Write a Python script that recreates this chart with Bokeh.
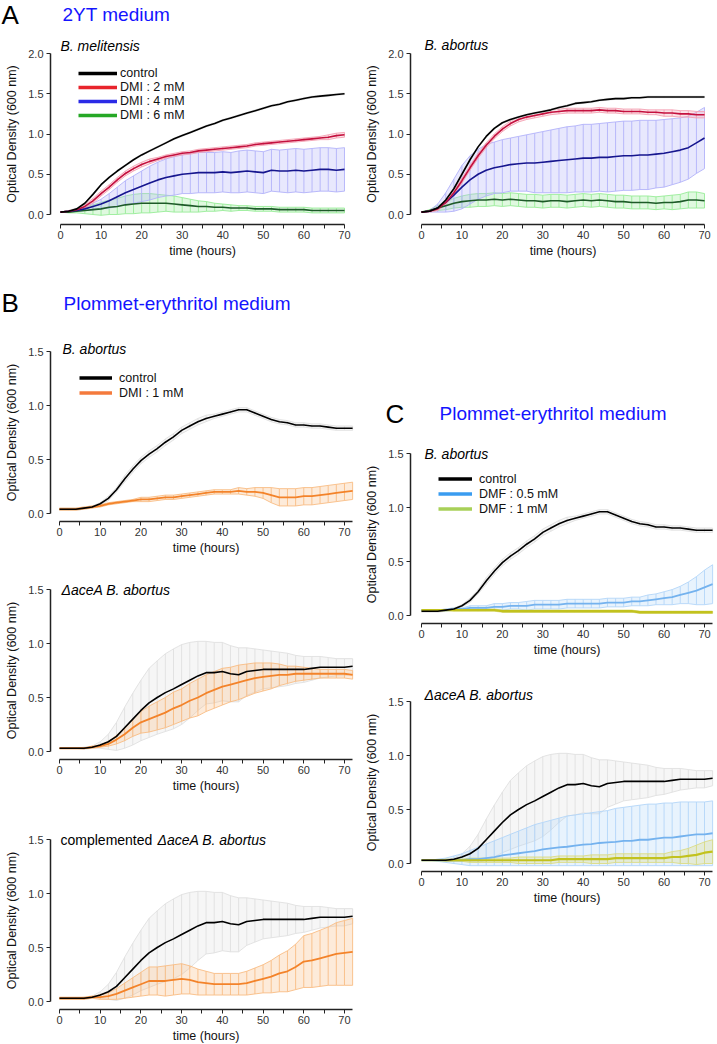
from bokeh.plotting import figure
from bokeh.models import Range1d, FixedTicker, Label, Legend, LegendItem, PrintfTickFormatter
from bokeh.layouts import row, column
from bokeh.embed import file_html
from bokeh.resources import INLINE

FONT = "Liberation Sans"
NAN = float("nan")

# ---------------- data ----------------
t_A = [0, 2, 4, 6, 8, 10, 12, 14, 16, 18, 20, 22, 24, 26, 28, 30, 32, 34,
       36, 38, 40, 42, 44, 46, 48, 50, 52, 54, 56, 58, 60, 62, 64, 66, 68, 70]
t_BC = [0, 2, 4, 6, 8, 10, 12, 14, 16, 18, 20, 22, 24, 26, 28, 30, 32, 34,
        36, 38, 40, 42, 44, 46, 48, 50, 52, 54, 56, 58, 60, 62, 64, 66, 68, 70, 72]

# Panel A, B. melitensis (2YT)
mel_ctrl = [0.03, 0.04, 0.07, 0.14, 0.25, 0.37,
            0.46, 0.54, 0.61, 0.68, 0.74, 0.79,
            0.84, 0.89, 0.94, 0.98, 1.02, 1.06,
            1.10, 1.13, 1.17, 1.20, 1.23, 1.26,
            1.29, 1.32, 1.35, 1.37, 1.40, 1.42,
            1.44, 1.46, 1.47, 1.48, 1.49, 1.50]
mel_ctrl_sd = [0.00, 0.01, 0.01, 0.01, 0.01, 0.01,
               0.01, 0.01, 0.01, 0.01, 0.01, 0.01,
               0.01, 0.01, 0.01, 0.01, 0.01, 0.01,
               0.01, 0.01, 0.01, 0.01, 0.01, 0.01,
               0.01, 0.01, 0.01, 0.01, 0.01, 0.01,
               0.01, 0.01, 0.01, 0.01, 0.01, 0.01]
mel_dmi2 = [0.03, 0.04, 0.06, 0.10, 0.17, 0.26,
            0.34, 0.43, 0.51, 0.57, 0.62, 0.66,
            0.69, 0.72, 0.74, 0.76, 0.77, 0.79,
            0.80, 0.81, 0.82, 0.83, 0.84, 0.85,
            0.87, 0.88, 0.89, 0.90, 0.91, 0.92,
            0.93, 0.94, 0.95, 0.96, 0.98, 0.99]
mel_dmi2_sd = [0.00, 0.01, 0.01, 0.02, 0.03, 0.03,
               0.03, 0.03, 0.03, 0.03, 0.03, 0.03,
               0.02, 0.02, 0.02, 0.02, 0.02, 0.02,
               0.02, 0.02, 0.02, 0.02, 0.02, 0.02,
               0.02, 0.02, 0.02, 0.02, 0.02, 0.02,
               0.02, 0.02, 0.02, 0.03, 0.03, 0.03]
mel_dmi4 = [0.03, 0.04, 0.05, 0.07, 0.10, 0.13,
            0.17, 0.22, 0.27, 0.31, 0.35, 0.39,
            0.43, 0.46, 0.48, 0.50, 0.51, 0.52,
            0.52, 0.52, 0.53, 0.52, 0.53, 0.54,
            0.53, 0.52, 0.55, 0.54, 0.54, 0.55,
            0.54, 0.55, 0.56, 0.56, 0.55, 0.56]
mel_dmi4_sd = [0.00, 0.00, 0.01, 0.02, 0.04, 0.06,
               0.09, 0.12, 0.15, 0.17, 0.19, 0.21,
               0.22, 0.23, 0.24, 0.24, 0.25, 0.25,
               0.25, 0.25, 0.25, 0.25, 0.26, 0.26,
               0.26, 0.26, 0.26, 0.26, 0.27, 0.27,
               0.27, 0.27, 0.27, 0.27, 0.27, 0.27]
mel_dmi6 = [0.03, 0.03, 0.04, 0.05, 0.06, 0.07,
            0.09, 0.10, 0.12, 0.13, 0.14, 0.14,
            0.14, 0.14, 0.13, 0.12, 0.11, 0.10,
            0.10, 0.09, 0.09, 0.08, 0.08, 0.08,
            0.07, 0.07, 0.07, 0.06, 0.06, 0.06,
            0.06, 0.05, 0.05, 0.05, 0.05, 0.05]
mel_dmi6_sd = [0.00, 0.01, 0.02, 0.04, 0.06, 0.08,
               0.09, 0.10, 0.11, 0.12, 0.12, 0.12,
               0.11, 0.10, 0.10, 0.09, 0.08, 0.07,
               0.06, 0.05, 0.04, 0.04, 0.03, 0.03,
               0.03, 0.03, 0.03, 0.03, 0.03, 0.03,
               0.03, 0.03, 0.03, 0.03, 0.03, 0.03]

# Panel A, B. abortus (2YT)
abo_ctrl = [0.03, 0.04, 0.08, 0.18, 0.32, 0.50,
            0.68, 0.84, 0.97, 1.07, 1.14, 1.18,
            1.21, 1.24, 1.26, 1.28, 1.30, 1.33,
            1.35, 1.38, 1.39, 1.40, 1.42, 1.43,
            1.44, 1.44, 1.45, 1.45, 1.46, 1.46,
            1.46, 1.46, 1.46, 1.46, 1.46, 1.46]
abo_ctrl_sd = [0.00, 0.01, 0.01, 0.01, 0.01, 0.01,
               0.01, 0.01, 0.01, 0.01, 0.01, 0.01,
               0.01, 0.01, 0.01, 0.01, 0.01, 0.01,
               0.01, 0.01, 0.01, 0.01, 0.01, 0.01,
               0.01, 0.01, 0.01, 0.01, 0.01, 0.01,
               0.01, 0.01, 0.01, 0.01, 0.01, 0.01]
abo_dmi2 = [0.03, 0.04, 0.07, 0.15, 0.27, 0.42,
            0.58, 0.73, 0.86, 0.97, 1.06, 1.13,
            1.18, 1.21, 1.23, 1.25, 1.27, 1.28,
            1.29, 1.29, 1.29, 1.29, 1.30, 1.29,
            1.29, 1.28, 1.28, 1.28, 1.27, 1.27,
            1.26, 1.26, 1.25, 1.25, 1.24, 1.24]
abo_dmi2_sd = [0.00, 0.01, 0.02, 0.03, 0.03, 0.03,
               0.03, 0.03, 0.03, 0.03, 0.03, 0.03,
               0.03, 0.03, 0.03, 0.03, 0.03, 0.03,
               0.03, 0.03, 0.03, 0.03, 0.03, 0.03,
               0.03, 0.03, 0.03, 0.03, 0.03, 0.03,
               0.04, 0.04, 0.04, 0.04, 0.04, 0.04]
abo_dmi4 = [0.03, 0.04, 0.08, 0.15, 0.24, 0.34,
            0.43, 0.50, 0.55, 0.58, 0.60, 0.62,
            0.63, 0.64, 0.64, 0.65, 0.66, 0.67,
            0.68, 0.69, 0.70, 0.70, 0.71, 0.71,
            0.72, 0.73, 0.73, 0.74, 0.74, 0.75,
            0.76, 0.78, 0.80, 0.83, 0.89, 0.95]
abo_dmi4_sd = [0.00, 0.01, 0.05, 0.12, 0.20, 0.27,
               0.30, 0.31, 0.32, 0.32, 0.33, 0.33,
               0.34, 0.35, 0.37, 0.38, 0.39, 0.40,
               0.41, 0.41, 0.42, 0.42, 0.42, 0.43,
               0.43, 0.43, 0.43, 0.43, 0.43, 0.42,
               0.42, 0.41, 0.40, 0.39, 0.38, 0.38]
abo_dmi6 = [0.03, 0.05, 0.08, 0.11, 0.14, 0.16,
            0.17, 0.18, 0.18, 0.19, 0.18, 0.19,
            0.18, 0.17, 0.17, 0.16, 0.17, 0.17,
            0.16, 0.17, 0.18, 0.17, 0.18, 0.17,
            0.16, 0.16, 0.15, 0.15, 0.15, 0.14,
            0.15, 0.15, 0.16, 0.18, 0.18, 0.17]
abo_dmi6_sd = [0.00, 0.01, 0.03, 0.05, 0.06, 0.07,
               0.08, 0.08, 0.08, 0.08, 0.08, 0.08,
               0.08, 0.08, 0.08, 0.08, 0.08, 0.08,
               0.08, 0.08, 0.08, 0.08, 0.08, 0.08,
               0.08, 0.08, 0.08, 0.08, 0.08, 0.08,
               0.08, 0.09, 0.09, 0.10, 0.10, 0.09]

# Plommet-erythritol: wild-type B. abortus control (B top, C top)
wt_ctrl = [0.04, 0.04, 0.04, 0.05, 0.06, 0.09,
           0.14, 0.22, 0.32, 0.41, 0.49, 0.55,
           0.60, 0.66, 0.71, 0.77, 0.81, 0.85,
           0.88, 0.90, 0.92, 0.94, 0.96, 0.96,
           0.93, 0.90, 0.87, 0.85, 0.84, 0.82,
           0.82, 0.81, 0.81, 0.80, 0.79, 0.79, 0.79]
wt_ctrl_sd = [0.01, 0.01, 0.01, 0.01, 0.01, 0.01,
              0.02, 0.02, 0.03, 0.03, 0.03, 0.03,
              0.03, 0.03, 0.03, 0.03, 0.03, 0.03,
              0.03, 0.02, 0.02, 0.02, 0.02, 0.02,
              0.02, 0.02, 0.02, 0.02, 0.02, 0.02,
              0.02, 0.02, 0.02, 0.02, 0.02, 0.02, 0.02]
# Delta aceA control (B middle, B bottom, C bottom)
ace_ctrl = [0.03, 0.03, 0.03, 0.03, 0.04, 0.06,
            0.09, 0.14, 0.22, 0.30, 0.38, 0.45,
            0.50, 0.545, 0.58, 0.62, 0.66, 0.70,
            0.73, 0.73, 0.74, 0.72, 0.71, 0.74,
            0.75, 0.76, 0.76, 0.76, 0.76, 0.76,
            0.76, 0.77, 0.78, 0.78, 0.78, 0.78, 0.79]
ace_ctrl_sd = [0.00, 0.00, 0.00, 0.01, 0.01, 0.03,
               0.07, 0.13, 0.19, 0.24, 0.28, 0.32,
               0.34, 0.36, 0.37, 0.37, 0.35, 0.32,
               0.29, 0.28, 0.27, 0.26, 0.25, 0.22,
               0.20, 0.18, 0.17, 0.16, 0.15, 0.13,
               0.12, 0.11, 0.10, 0.09, 0.08, 0.08, 0.07]

# B: DMI 1 mM
b1_dmi = [0.04, 0.04, 0.04, 0.05, 0.06, 0.07,
          0.09, 0.10, 0.11, 0.12, 0.13, 0.13,
          0.14, 0.15, 0.15, 0.16, 0.17, 0.18,
          0.19, 0.20, 0.20, 0.20, 0.21, 0.20,
          0.20, 0.19, 0.17, 0.15, 0.15, 0.15,
          0.16, 0.16, 0.17, 0.18, 0.19, 0.20, 0.21]
b1_dmi_sd = [0.01, 0.01, 0.01, 0.01, 0.01, 0.01,
             0.01, 0.01, 0.01, 0.01, 0.02, 0.02,
             0.02, 0.02, 0.02, 0.02, 0.02, 0.02,
             0.02, 0.02, 0.02, 0.02, 0.03, 0.03,
             0.04, 0.05, 0.07, 0.08, 0.08, 0.08,
             0.08, 0.08, 0.08, 0.08, 0.08, 0.08, 0.08]
b2_dmi = [0.03, 0.03, 0.03, 0.03, 0.04, 0.05,
          0.07, 0.11, 0.16, 0.22, 0.27, 0.30,
          0.33, 0.36, 0.40, 0.43, 0.47, 0.50,
          0.54, 0.57, 0.60, 0.62, 0.64, 0.66,
          0.68, 0.69, 0.70, 0.71, 0.71, 0.72,
          0.72, 0.72, 0.72, 0.72, 0.72, 0.72, 0.71]
b2_dmi_sd = [0.00, 0.00, 0.00, 0.00, 0.01, 0.01,
             0.02, 0.04, 0.06, 0.08, 0.10, 0.12,
             0.13, 0.14, 0.15, 0.15, 0.16, 0.17,
             0.17, 0.17, 0.17, 0.16, 0.16, 0.15,
             0.14, 0.13, 0.12, 0.10, 0.08, 0.07,
             0.06, 0.05, 0.04, 0.04, 0.04, 0.04, 0.04]
b3_dmi = [0.03, 0.03, 0.03, 0.03, 0.04, 0.04,
          0.05, 0.07, 0.10, 0.13, 0.16, 0.19,
          0.19, 0.19, 0.20, 0.21, 0.20, 0.18,
          0.17, 0.16, 0.16, 0.16, 0.16, 0.17,
          0.19, 0.21, 0.23, 0.26, 0.28, 0.32,
          0.37, 0.38, 0.40, 0.42, 0.44, 0.45, 0.46]
b3_dmi_sd = [0.01, 0.01, 0.01, 0.01, 0.01, 0.02,
             0.03, 0.05, 0.07, 0.09, 0.11, 0.13,
             0.13, 0.14, 0.14, 0.14, 0.13, 0.12,
             0.11, 0.10, 0.10, 0.10, 0.10, 0.11,
             0.12, 0.13, 0.15, 0.17, 0.19, 0.21,
             0.24, 0.25, 0.26, 0.27, 0.29, 0.30, 0.31]

# C: DMF
c1_dmf05 = [0.05, 0.05, 0.05, 0.05, 0.06, 0.06,
            0.07, 0.07, 0.07, 0.08, 0.08, 0.09,
            0.09, 0.09, 0.10, 0.10, 0.10, 0.10,
            0.11, 0.11, 0.11, 0.11, 0.11, 0.12,
            0.12, 0.12, 0.13, 0.13, 0.14, 0.15,
            0.16, 0.17, 0.19, 0.21, 0.23, 0.26, 0.29]
c1_dmf05_sd = [0.00, 0.00, 0.00, 0.01, 0.01, 0.01,
               0.02, 0.02, 0.02, 0.03, 0.03, 0.03,
               0.03, 0.04, 0.04, 0.04, 0.04, 0.04,
               0.04, 0.04, 0.04, 0.04, 0.04, 0.04,
               0.04, 0.04, 0.04, 0.04, 0.05, 0.05,
               0.06, 0.07, 0.08, 0.10, 0.13, 0.16, 0.18]
c1_dmf1 = [0.05, 0.05, 0.05, 0.05, 0.05, 0.05,
           0.05, 0.05, 0.05, 0.05, 0.04, 0.04,
           0.04, 0.04, 0.04, 0.04, 0.04, 0.04,
           0.04, 0.04, 0.04, 0.04, 0.04, 0.04,
           0.04, 0.04, 0.04, 0.03, 0.03, 0.03,
           0.03, 0.03, 0.03, 0.03, 0.03, 0.03, 0.03]
c1_dmf1_sd = [0.00, 0.00, 0.00, 0.00, 0.01, 0.01,
              0.01, 0.01, 0.01, 0.01, 0.01, 0.01,
              0.01, 0.01, 0.01, 0.01, 0.01, 0.01,
              0.01, 0.01, 0.01, 0.01, 0.01, 0.01,
              0.01, 0.01, 0.01, 0.01, 0.01, 0.01,
              0.01, 0.01, 0.01, 0.01, 0.01, 0.01, 0.01]
c2_dmf05 = [0.03, 0.03, 0.03, 0.03, 0.03, 0.03,
            0.04, 0.04, 0.05, 0.06, 0.075, 0.085,
            0.095, 0.105, 0.115, 0.13, 0.14, 0.15,
            0.155, 0.165, 0.175, 0.18, 0.19, 0.195,
            0.20, 0.21, 0.21, 0.22, 0.22, 0.23,
            0.24, 0.24, 0.25, 0.26, 0.27, 0.27, 0.28]
c2_dmf05_hi = [0.03, 0.03, 0.04, 0.05, 0.07, 0.09,
               0.12, 0.15, 0.18, 0.21, 0.24, 0.27,
               0.30, 0.33, 0.36, 0.38, 0.40, 0.42,
               0.44, 0.45, 0.46, 0.47, 0.48, 0.49,
               0.51, 0.52, 0.53, 0.54, 0.55, 0.55,
               0.56, 0.56, 0.57, 0.57, 0.57, 0.57, 0.58]
c2_dmf05_lo = [0.03, 0.03, 0.02, 0.01, 0.00, -0.01,
               -0.02, -0.02, -0.02, -0.02, -0.02, -0.02,
               -0.02, -0.02, -0.02, -0.02, -0.02, -0.02,
               -0.02, -0.02, -0.02, -0.02, -0.02, -0.02,
               -0.02, -0.02, -0.02, -0.02, -0.02, -0.02,
               -0.02, -0.02, -0.02, -0.02, -0.02, -0.02, -0.02]
c2_dmf1 = [0.03, 0.03, 0.03, 0.03, 0.03, 0.03,
           0.03, 0.03, 0.03, 0.03, 0.03, 0.03,
           0.03, 0.03, 0.03, 0.03, 0.03, 0.04,
           0.04, 0.04, 0.04, 0.04, 0.04, 0.04,
           0.05, 0.05, 0.05, 0.05, 0.05, 0.05,
           0.05, 0.06, 0.06, 0.07, 0.08, 0.10, 0.11]
c2_dmf1_sd = [0.00, 0.00, 0.00, 0.01, 0.01, 0.01,
              0.02, 0.02, 0.02, 0.02, 0.02, 0.02,
              0.03, 0.03, 0.03, 0.03, 0.03, 0.03,
              0.03, 0.03, 0.03, 0.04, 0.04, 0.04,
              0.04, 0.04, 0.04, 0.04, 0.04, 0.04,
              0.04, 0.05, 0.06, 0.07, 0.09, 0.10, 0.11]

x_major = [0, 10, 20, 30, 40, 50, 60, 70]
x_minor = [5, 15, 25, 35, 45, 55, 65]
y_ticks_A = [0, 0.5, 1.0, 1.5, 2.0]
y_ticks_BC = [0, 0.5, 1.0, 1.5]

# ---------------- styles ----------------
BLACK = "#000000"
GRAY_ERR = "#e0e0e0"
RED_L, RED_E, RED_LEG = "#c4103e", "#f4a2b4", "#e8242c"
BLU_L, BLU_E, BLU_LEG = "#16168e", "#b2b2fa", "#2a2ae6"
GRN_L, GRN_E, GRN_LEG = "#1d5a28", "#98ec98", "#26a826"
ORG_L, ORG_E, ORG_LEG = "#f3832a", "#f8bd84", "#f47a3c"
LBL_L, LBL_E, LBL_LEG = "#74b2ee", "#b4d6f8", "#3a9cf0"
YEL_L, YEL_E, YEL_LEG = "#c2c21e", "#dcdc84", "#a8d058"
HEAD_BLUE = "#1414ff"


class Panel:
    """A figure whose frame fills the whole figure; axes sit at fixed locations."""

    def __init__(self, left, top, width, height, px0, ppu_x, py0, ppu_y,
                 ax_px, ax_py, xbound, ybound, yticks):
        self.left, self.top, self.w, self.h = left, top, width, height
        xr = Range1d((left - px0) / ppu_x, (left + width - px0) / ppu_x)
        yr = Range1d((py0 - (top + height)) / ppu_y, (py0 - top) / ppu_y)
        p = figure(width=width, height=height, x_range=xr, y_range=yr,
                   output_backend="svg", toolbar_location=None,
                   min_border_left=0, min_border_right=0,
                   min_border_top=0, min_border_bottom=0)
        p.outline_line_color = None
        p.grid.visible = False
        p.xaxis.axis_label = "time (hours)"
        p.yaxis.axis_label = "Optical Density (600 nm)"
        p.xaxis.bounds = xbound
        p.yaxis.bounds = ybound
        p.yaxis.fixed_location = (ax_px - px0) / ppu_x
        p.xaxis.fixed_location = (py0 - ax_py) / ppu_y
        p.xaxis.ticker = FixedTicker(ticks=x_major, minor_ticks=x_minor)
        p.yaxis.ticker = FixedTicker(ticks=yticks)
        p.yaxis.formatter = PrintfTickFormatter(format="%.1f")
        for ax in (p.xaxis, p.yaxis):
            ax.axis_line_color = "#222222"
            ax.axis_line_width = 1.5
            ax.major_tick_line_color = "#222222"
            ax.minor_tick_line_color = "#222222"
            ax.major_tick_out = 4
            ax.major_tick_in = 0
            ax.minor_tick_out = 4
            ax.minor_tick_in = 0
            ax.major_label_text_font = FONT
            ax.major_label_text_font_size = "11px"
            ax.major_label_text_color = "#333333"
            ax.axis_label_text_font = FONT
            ax.axis_label_text_font_size = "12.5px"
            ax.axis_label_text_font_style = "normal"
            ax.axis_label_text_color = "#111111"
        p.yaxis.minor_tick_line_color = None
        p.xaxis.major_label_standoff = 2
        p.xaxis.axis_label_standoff = 2
        p.yaxis.major_label_standoff = 3
        p.yaxis.axis_label_standoff = 6
        self.p = p

    def band_lohi(self, t, lo, hi, color):
        p = self.p
        p.varea(x=t, y1=lo, y2=hi, fill_color=color, fill_alpha=0.3)
        p.segment(x0=t, y0=lo, x1=t, y1=hi, line_color=color, line_width=1, line_alpha=0.9)
        p.line(t, hi, line_color=color, line_width=1, line_alpha=0.9)
        p.line(t, lo, line_color=color, line_width=1, line_alpha=0.9)

    def band(self, t, mean, sd, color):
        lo = [m - s for m, s in zip(mean, sd)]
        hi = [m + s for m, s in zip(mean, sd)]
        self.band_lohi(t, lo, hi, color)

    def curve(self, t, mean, color, width=1.6):
        self.p.line(t, mean, line_color=color, line_width=width)

    def text(self, page_x, page_y, text, size, style="normal", color="#000000"):
        self.p.add_layout(Label(x=page_x - self.left, y=self.top + self.h - page_y,
                                x_units="screen", y_units="screen", text=text,
                                text_font=FONT, text_font_size=size, text_font_style=style,
                                text_color=color, text_baseline="middle", text_align="left"))

    def legend(self, entries, page_x, page_y_top, glyph_w, standoff, row_h):
        items = []
        for name, col in entries:
            r = self.p.line(x=[NAN], y=[NAN], line_color=col, line_width=3.5)
            items.append(LegendItem(label=name, renderers=[r]))
        vy = self.top + self.h - (page_y_top + row_h * len(entries))
        lg = Legend(items=items, location=(page_x - self.left, vy),
                    glyph_width=glyph_w, glyph_height=row_h,
                    label_height=row_h, label_standoff=standoff, spacing=0, padding=0, margin=0,
                    border_line_color=None, background_fill_alpha=0,
                    label_text_font=FONT, label_text_font_size="12.5px",
                    label_text_color="#111111")
        self.p.add_layout(lg)


# ---------------- panel A ----------------
A1 = Panel(0, 0, 360, 260, 60, 4.057, 214, 80.5, 50, 224, (0, 70), (0, 2), y_ticks_A)
A1.band(t_A, mel_dmi6, mel_dmi6_sd, GRN_E)
A1.band(t_A, mel_dmi4, mel_dmi4_sd, BLU_E)
A1.band(t_A, mel_dmi2, mel_dmi2_sd, RED_E)
A1.band(t_A, mel_ctrl, mel_ctrl_sd, GRAY_ERR)
A1.curve(t_A, mel_dmi6, GRN_L)
A1.curve(t_A, mel_dmi4, BLU_L)
A1.curve(t_A, mel_dmi2, RED_L)
A1.curve(t_A, mel_ctrl, BLACK)
A1.legend([("control", "#000000"), ("DMI : 2 mM", RED_LEG),
           ("DMI : 4 mM", BLU_LEG), ("DMI : 6 mM", GRN_LEG)], 78, 66, 39, 3, 14)
A1.text(1, 14, "A", "26px")
A1.text(62, 14, "2YT medium", "19px", color=HEAD_BLUE)
A1.text(60, 45, "B. melitensis", "14px", "italic")

A2 = Panel(360, 0, 356, 260, 421, 4.043, 214, 80.5, 410, 224, (0, 70), (0, 2), y_ticks_A)
A2.band(t_A, abo_dmi6, abo_dmi6_sd, GRN_E)
A2.band(t_A, abo_dmi4, abo_dmi4_sd, BLU_E)
A2.band(t_A, abo_dmi2, abo_dmi2_sd, RED_E)
A2.band(t_A, abo_ctrl, abo_ctrl_sd, GRAY_ERR)
A2.curve(t_A, abo_dmi6, GRN_L)
A2.curve(t_A, abo_dmi4, BLU_L)
A2.curve(t_A, abo_dmi2, RED_L)
A2.curve(t_A, abo_ctrl, BLACK)
A2.text(424, 44, "B. abortus", "14px", "italic")

# ---------------- panel B ----------------
B1 = Panel(0, 260, 360, 297, 59, 4.071, 513, 108, 50, 521, (0, 72), (0, 1.5), y_ticks_BC)
B1.band(t_BC, wt_ctrl, wt_ctrl_sd, GRAY_ERR)
B1.band(t_BC, b1_dmi, b1_dmi_sd, ORG_E)
B1.curve(t_BC, b1_dmi, ORG_L, 1.8)
B1.curve(t_BC, wt_ctrl, BLACK)
B1.legend([("control", "#000000"), ("DMI : 1 mM", ORG_LEG)], 79, 370, 33, 7, 15)
B1.text(1, 302, "B", "26px")
B1.text(63, 303, "Plommet-erythritol medium", "19px", color=HEAD_BLUE)
B1.text(62, 348, "B. abortus", "14px", "italic")

B2 = Panel(0, 557, 360, 238, 59, 4.071, 751, 108, 50, 759, (0, 72), (0, 1.5), y_ticks_BC)
B2.band(t_BC, ace_ctrl, ace_ctrl_sd, GRAY_ERR)
B2.band(t_BC, b2_dmi, b2_dmi_sd, ORG_E)
B2.curve(t_BC, b2_dmi, ORG_L, 1.8)
B2.curve(t_BC, ace_ctrl, BLACK)
B2.text(61, 589, "\u0394aceA B. abortus", "14px", "italic")

B3 = Panel(0, 795, 360, 248, 59, 4.071, 1001, 108, 50, 1009, (0, 72), (0, 1.5), y_ticks_BC)
B3.band(t_BC, ace_ctrl, ace_ctrl_sd, GRAY_ERR)
B3.band(t_BC, b3_dmi, b3_dmi_sd, ORG_E)
B3.curve(t_BC, b3_dmi, ORG_L, 1.8)
B3.curve(t_BC, ace_ctrl, BLACK)
B3.text(60, 839, "complemented", "14px")
B3.text(157, 839, "\u0394aceA B. abortus", "14px", "italic")

# ---------------- panel C ----------------
C1 = Panel(360, 260, 356, 399, 421, 4.043, 615, 108, 410, 623, (0, 72), (0, 1.5), y_ticks_BC)
C1.band(t_BC, wt_ctrl, wt_ctrl_sd, GRAY_ERR)
C1.band(t_BC, c1_dmf05, c1_dmf05_sd, LBL_E)
C1.band(t_BC, c1_dmf1, c1_dmf1_sd, YEL_E)
C1.curve(t_BC, c1_dmf05, LBL_L, 1.8)
C1.curve(t_BC, c1_dmf1, YEL_L, 2.4)
C1.curve(t_BC, wt_ctrl, BLACK)
C1.legend([("control", "#000000"), ("DMF : 0.5 mM", LBL_LEG), ("DMF : 1 mM", YEL_LEG)],
          438, 471, 34, 7, 15)
C1.text(385, 413, "C", "26px")
C1.text(439, 413, "Plommet-erythritol medium", "19px", color=HEAD_BLUE)
C1.text(424, 453, "B. abortus", "14px", "italic")

C2 = Panel(360, 659, 356, 248, 421, 4.043, 863, 108, 410, 871, (0, 72), (0, 1.5), y_ticks_BC)
C2.band(t_BC, ace_ctrl, ace_ctrl_sd, GRAY_ERR)
C2.band_lohi(t_BC, c2_dmf05_lo, c2_dmf05_hi, LBL_E)
C2.band(t_BC, c2_dmf1, c2_dmf1_sd, YEL_E)
C2.curve(t_BC, c2_dmf05, LBL_L, 1.8)
C2.curve(t_BC, c2_dmf1, YEL_L, 2.2)
C2.curve(t_BC, ace_ctrl, BLACK)
C2.text(424, 694, "\u0394aceA B. abortus", "14px", "italic")

layout = column(row(A1.p, A2.p),
                row(column(B1.p, B2.p, B3.p), column(C1.p, C2.p)))

open("out.html", "w").write(file_html(layout, INLINE))
